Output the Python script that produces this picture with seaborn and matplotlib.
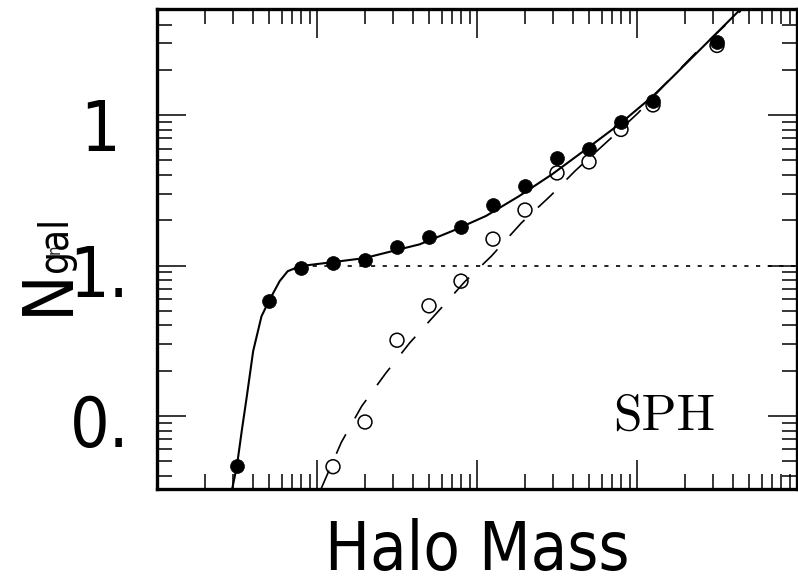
import matplotlib
matplotlib.use("Agg")
import matplotlib.pyplot as plt
import matplotlib.transforms as mtransforms
from matplotlib.ticker import LogLocator, NullFormatter
import numpy as np
import pandas as pd
import seaborn as sns

sns.set_theme(style="ticks")
plt.rcParams['font.family'] = ['DejaVu Sans']
plt.rcParams['font.stretch'] = 'condensed'

# measured points (log10 halo mass, N_gal)
filled_logm = [11.5, 11.7, 11.9, 12.1, 12.3, 12.5, 12.7, 12.9, 13.1, 13.3, 13.5, 13.7, 13.9, 14.1, 14.5]
filled_n = [0.0462, 0.580, 0.967, 1.039, 1.083, 1.328, 1.549, 1.804, 2.52, 3.38, 5.20, 5.97, 9.02, 12.45, 30.5]

open_logm = [12.1, 12.3, 12.5, 12.7, 12.9, 13.1, 13.3, 13.5, 13.7, 13.9, 14.1, 14.5]
open_n = [0.046, 0.0912, 0.319, 0.540, 0.788, 1.50, 2.34, 4.13, 4.89, 8.04, 11.7, 29.1]

# model curves
total_logm = [11.465, 11.499, 11.530, 11.560, 11.601, 11.653, 11.699, 11.767, 11.817, 11.898, 12.098,
              12.298, 12.497, 12.641, 12.847, 13.057, 13.264, 13.470, 13.701, 13.896, 14.096,
              14.219, 14.429, 14.637, 14.66]
total_n = [0.031, 0.0462, 0.080, 0.132, 0.270, 0.460, 0.580, 0.789, 0.918, 0.993, 1.054,
           1.122, 1.268, 1.384, 1.70, 2.14, 2.90, 4.05, 6.15, 8.81, 13.3,
           17.8, 29.7, 49.4, 52.5]

sat_logm = [12.021, 12.152, 12.279, 12.429, 12.578, 12.753, 12.921, 13.090, 13.277, 13.458,
            13.614, 13.83, 14.005, 14.20, 14.375, 14.649]
sat_n = [0.032, 0.0668, 0.116, 0.192, 0.305, 0.490, 0.776, 1.156, 1.92, 2.90,
         4.27, 6.92, 10.3, 17.1, 26.5, 49.4]

central_logm = [11.9, 15.0]
central_n = [1.0, 1.0]

ytick_values = [0.1, 1, 10]
ytick_labels = ["0.", "1.", "1"]

filled = pd.DataFrame({"mass": np.power(10.0, filled_logm), "n": filled_n})
opened = pd.DataFrame({"mass": np.power(10.0, open_logm), "n": open_n})
total = pd.DataFrame({"mass": np.power(10.0, total_logm), "n": total_n})
sat = pd.DataFrame({"mass": np.power(10.0, sat_logm), "n": sat_n})
cen = pd.DataFrame({"mass": np.power(10.0, central_logm), "n": central_n})

W, H = 798, 584
fig = plt.figure(figsize=(W / 100, H / 100), dpi=100)
ax = fig.add_axes([157 / W, 1 - 489 / H, 640 / W, (489 - 9.4) / H])
ax.set_xscale("log")
ax.set_yscale("log")

sns.lineplot(data=total, x="mass", y="n", ax=ax, color="black", lw=1.5,
             sort=False, estimator=None)
sns.lineplot(data=sat, x="mass", y="n", ax=ax, color="black", lw=1.2,
             sort=False, estimator=None)
ax.lines[-1].set_dashes((13, 11))
sns.lineplot(data=cen, x="mass", y="n", ax=ax, color="black", lw=1.2,
             sort=False, estimator=None)
ax.lines[-1].set_dashes((2.5, 4.5))

sns.scatterplot(data=opened, x="mass", y="n", ax=ax, s=100, marker="o",
                facecolor="none", edgecolor="black", linewidth=1.1, zorder=3)
sns.scatterplot(data=filled, x="mass", y="n", ax=ax, s=100, marker="o",
                color="black", edgecolor="black", linewidth=0.5, zorder=4)

ax.set_xlim(1e11, 1e15)
ax.set_ylim(0.0327, 50.5)

for sp in ax.spines.values():
    sp.set_linewidth(2.4)
    sp.set_color("black")

ax.xaxis.set_major_locator(LogLocator(base=10, numticks=10))
ax.xaxis.set_minor_locator(LogLocator(base=10, subs=np.arange(2, 10), numticks=20))
ax.xaxis.set_minor_formatter(NullFormatter())
ax.yaxis.set_minor_locator(LogLocator(base=10, subs=np.arange(2, 10), numticks=20))
ax.yaxis.set_minor_formatter(NullFormatter())
ax.set_xticklabels([])
ax.tick_params(which="both", direction="in", top=True, right=True, color="black", width=1.1)
ax.tick_params(which="major", length=21, pad=20)
ax.tick_params(which="minor", length=10.5)

ax.set_yticks(ytick_values)
ax.set_yticklabels(ytick_labels, fontsize=50, color="black")
ylabels = ax.get_yticklabels()
for lab in ylabels:
    lab.set_transform(lab.get_transform() +
                      mtransforms.ScaledTranslation(0, -5 / 100, fig.dpi_scale_trans))
ylabels[2].set_transform(ylabels[2].get_transform() +
                         mtransforms.ScaledTranslation(-9 / 100, -4 / 100, fig.dpi_scale_trans))

ax.set_xlabel("Halo Mass", fontsize=48, color="black")
ax.xaxis.set_label_coords(0.5, -0.06)

# y label: N with a small "gal" subscript
fig.text(68 / W, 1 - 315 / H, "N", fontsize=50, rotation=90, rotation_mode="anchor",
         ha="left", va="baseline", color="black")
fig.text(67 / W, 1 - 272 / H, "gal", fontsize=29, rotation=90, rotation_mode="anchor",
         ha="left", va="baseline", color="black")

ax.text(0.7125, 0.123, "SPH", transform=ax.transAxes, fontsize=37,
        family="cmr10", color="black", va="baseline", ha="left")

fig.savefig("out.png", dpi=100)
